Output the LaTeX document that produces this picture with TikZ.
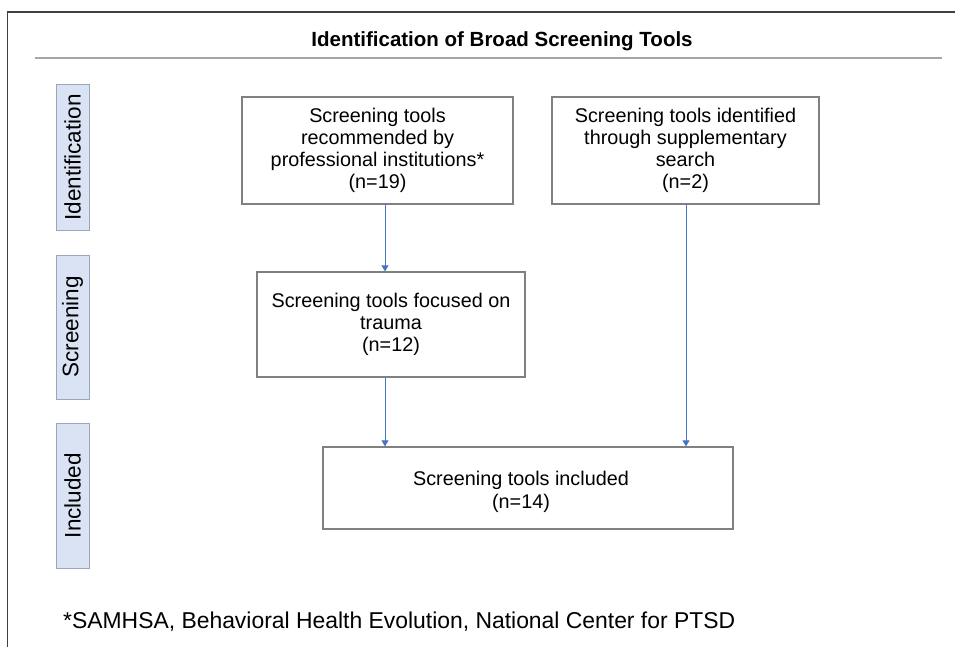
\documentclass[tikz,border=0pt]{standalone}
\usepackage{fontspec}
\setmainfont{Liberation Sans}
\usetikzlibrary{arrows.meta}
\definecolor{labfill}{HTML}{DAE3F3}
\definecolor{labdraw}{HTML}{9AA6BA}
\definecolor{boxdraw}{HTML}{808080}
\definecolor{arrblue}{HTML}{4472C4}
\definecolor{framec}{HTML}{404040}
\begin{document}
\begin{tikzpicture}[x=1pt,y=-1pt,
  stagebox/.style={draw=labdraw,fill=labfill,line width=1pt,rotate=90,minimum height=33,inner sep=0pt,font=\fontsize{22.5}{26}\selectfont},
  flowbox/.style={draw=boxdraw,line width=1.3pt,align=center,inner sep=0pt,font=\fontsize{19.8}{22}\selectfont},
  flowtext/.style={align=center,inner sep=0pt,font=\fontsize{19.8}{23.5}\selectfont},
  arr/.style={draw=arrblue,line width=1pt,-{Triangle[width=7pt,length=6pt]},fill=arrblue}]
\useasboundingbox (0,0) rectangle (955,647);
\fill[white] (0,0) rectangle (955,647);
% frame
\draw[framec,line width=1.6pt] (7.5,647) -- (7.5,12) -- (955,12);
% title
\node[font=\bfseries\fontsize{20.5}{24}\selectfont] (title) at (502,41) {Identification of Broad Screening Tools};
\draw[gray!70,line width=1.2pt] (35,58) -- (942,58);
% stage labels
\node[stagebox,minimum width=145] (lid) at (72.5,157.5) {Identification};
\node[stagebox,minimum width=144] (lsc) at (72.5,327) {Screening};
\node[stagebox,minimum width=145] (lin) at (72.5,495.5) {Included};
% boxes
\node[flowbox,minimum width=271,minimum height=107] (A) at (377.5,150.5) {Screening tools\\recommended by\\professional institutions*\\(n=19)};
\node[flowbox,minimum width=267,minimum height=107] (B) at (685.5,150.5) {Screening tools identified\\through supplementary\\search\\(n=2)};
\node[flowbox,minimum width=268,minimum height=105] (C) at (391,324.5) {Screening tools focused on\\trauma\\(n=12)};
\node[flowbox,minimum width=410,minimum height=82] (D) at (528,488) {};
\node[flowtext] (Dt) at ([xshift=-7pt,yshift=-4pt]D.center) {Screening tools included\\(n=14)};
% arrows
\coordinate (xl) at (385,0);
\coordinate (xr) at (686,0);
\draw[arr] (xl |- A.south) -- (xl |- C.north);
\draw[arr] (xl |- C.south) -- (xl |- D.north);
\draw[arr] (xr |- B.south) -- (xr |- D.north);
% footnote
\node[anchor=base west,inner sep=0pt,font=\fontsize{22.9}{26}\selectfont] (foot) at (63,628) {*SAMHSA, Behavioral Health Evolution, National Center for PTSD};
\end{tikzpicture}
\end{document}
